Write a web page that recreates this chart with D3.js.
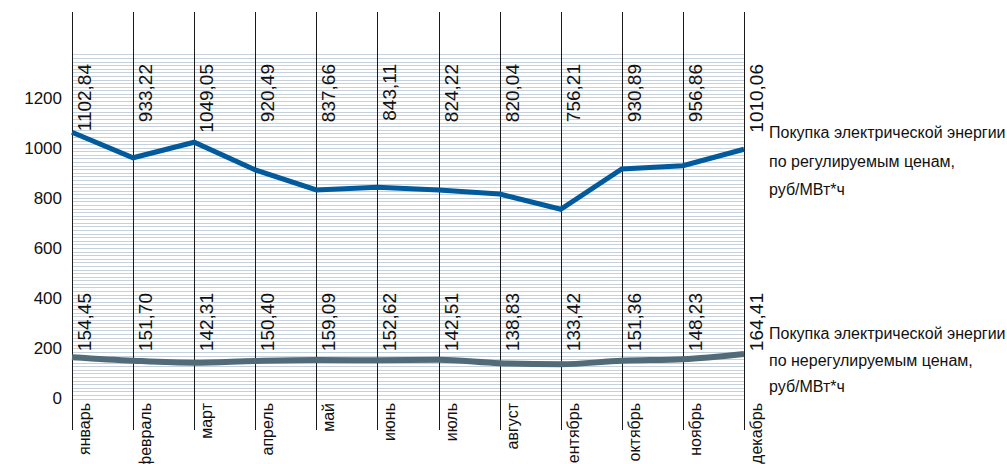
<!DOCTYPE html>
<html>
<head>
<meta charset="utf-8">
<script src="https://cdn.jsdelivr.net/npm/d3@7"></script>
<style>
  body { margin: 0; background: #fff; }
  svg { display: block; font-family: 'Liberation Sans', Arial, sans-serif; }
</style>
</head>
<body>
<svg id="chart" width="1007" height="464"></svg>
<script>
var months = ['январь', 'февраль', 'март', 'апрель', 'май', 'июнь', 'июль', 'август', 'сентябрь', 'октябрь', 'ноябрь', 'декабрь']

// plotted values (as drawn) and printed labels (as written on the chart)
var regulated = [1065, 963, 1025, 914, 834, 845, 834, 818, 757, 918, 931, 997]
var regulatedLabels = ['1102,84', '933,22', '1049,05', '920,49', '837,66', '843,11', '824,22', '820,04', '756,21', '930,89', '956,86', '1010,06']

var unregulated = [165, 151, 143, 150, 154, 153, 155, 141, 137, 151, 157, 178]
var unregulatedLabels = ['154,45', '151,70', '142,31', '150,40', '159,09', '152,62', '142,51', '138,83', '133,42', '151,36', '148,23', '164,41']

var yTicks = [0, 200, 400, 600, 800, 1000, 1200]

var legendRegulated = ['Покупка электрической энергии', 'по регулируемым ценам,', 'руб/МВт*ч']
var legendUnregulated = ['Покупка электрической энергии', 'по нерегулируемым ценам,', 'руб/МВт*ч']

var svg = d3.select('#chart'),
  left = 72, right = 744

var x = d3.scalePoint().domain(months).range([left, right])
var y = d3.scaleLinear().domain([0, 1200]).range([398.5, 98.5])

// horizontal hatching
var gridTop = 1376
var grid = d3.range(0, gridTop + 0.1, gridTop / 96)

svg.append('g').selectAll('line')
  .data(grid)
  .enter().append('line')
  .attr('x1', left).attr('x2', right)
  .attr('y1', function(d) { return Math.round(y(d)) + 0.5 })
  .attr('y2', function(d) { return Math.round(y(d)) + 0.5 })
  .attr('stroke', '#c6d1db')
  .attr('stroke-width', 1)

// month columns
svg.append('g').selectAll('line')
  .data(months)
  .enter().append('line')
  .attr('x1', function(d) { return Math.round(x(d)) + 0.5 })
  .attr('x2', function(d) { return Math.round(x(d)) + 0.5 })
  .attr('y1', 12).attr('y2', 430)
  .attr('stroke', '#1a1a1a')
  .attr('stroke-width', 1)

// y tick labels
svg.append('g').selectAll('text')
  .data(yTicks)
  .enter().append('text')
  .attr('x', 62)
  .attr('y', function(d) { return y(d) })
  .attr('dy', '0.35em')
  .attr('text-anchor', 'end')
  .attr('font-size', 17)
  .attr('fill', '#111')
  .text(function(d) { return d })

var line = d3.line()
  .x(function(d, i) { return x(months[i]) })
  .y(function(d) { return y(d) })

svg.append('path')
  .datum(unregulated)
  .attr('d', line.curve(d3.curveMonotoneX))
  .attr('fill', 'none')
  .attr('stroke', '#526b78')
  .attr('stroke-width', 6)

svg.append('path')
  .datum(regulated)
  .attr('d', line.curve(d3.curveLinear))
  .attr('fill', 'none')
  .attr('stroke', '#005a9c')
  .attr('stroke-width', 5)
  .attr('stroke-linejoin', 'miter')

function valueLabels(labels, yEnd) {
  svg.append('g').selectAll('text')
    .data(labels)
    .enter().append('text')
    .attr('transform', function(d, i) { return 'translate(' + (x(months[i]) + 19) + ',' + yEnd + ') rotate(-90)' })
    .attr('text-anchor', 'end')
    .attr('font-size', 19)
    .attr('fill', '#111')
    .text(function(d) { return d })
}

valueLabels(regulatedLabels, 64)
valueLabels(unregulatedLabels, 293)

// month labels
svg.append('g').selectAll('text')
  .data(months)
  .enter().append('text')
  .attr('transform', function(d) { return 'translate(' + (x(d) + 18) + ',403) rotate(-90)' })
  .attr('text-anchor', 'end')
  .attr('font-size', 16)
  .attr('fill', '#111')
  .text(function(d) { return d })

function legend(lines, yFirst, step) {
  svg.append('g').selectAll('text')
    .data(lines)
    .enter().append('text')
    .attr('x', 769)
    .attr('y', function(d, i) { return yFirst + i * step })
    .attr('font-size', 16)
    .attr('fill', '#111')
    .text(function(d) { return d })
}

legend(legendRegulated, 138, 28.5)
legend(legendUnregulated, 339, 26.5)
</script>
</body>
</html>
